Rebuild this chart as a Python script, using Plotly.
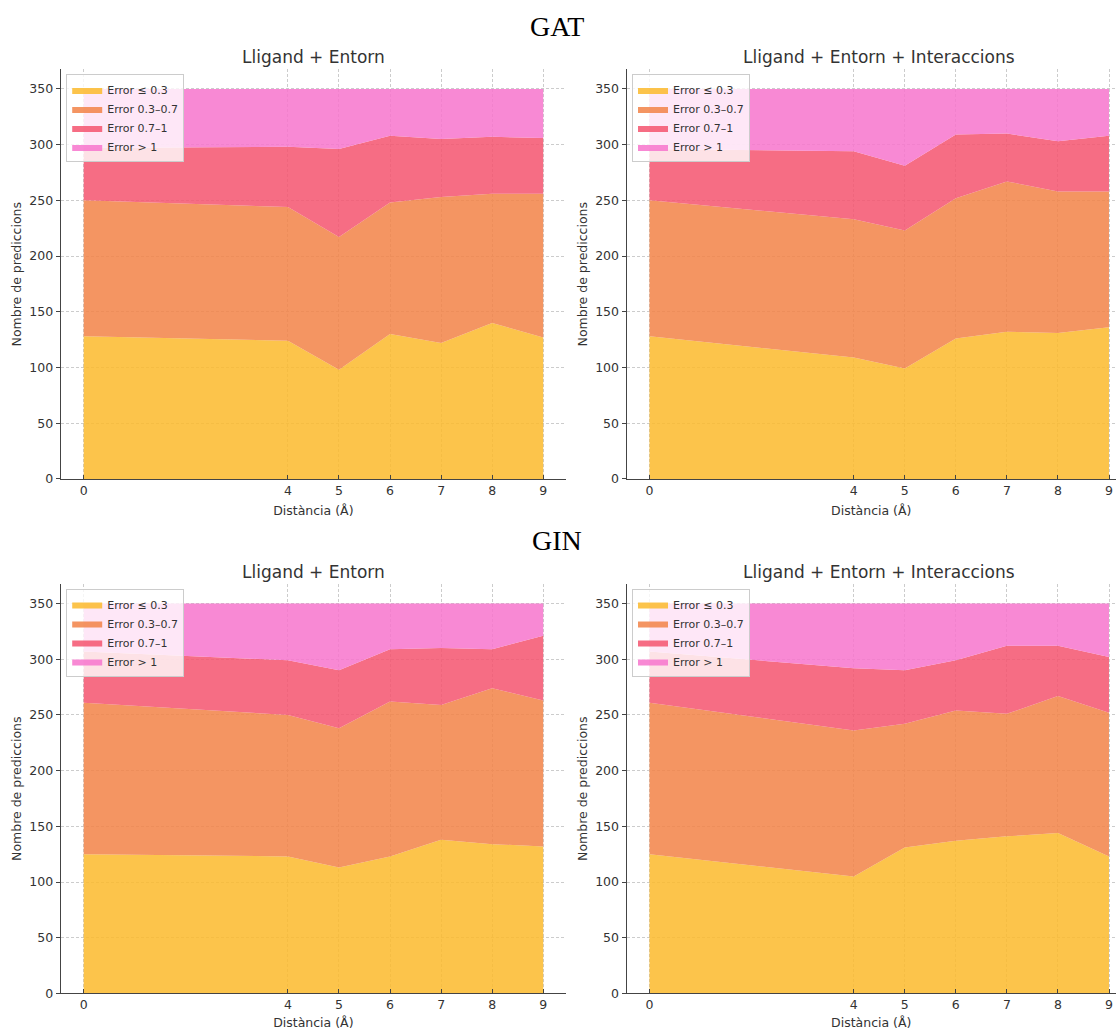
import plotly.graph_objects as go

# ---------------- data ----------------
distances = [0, 4, 5, 6, 7, 8, 9]
x_ticks = [0, 4, 5, 6, 7, 8, 9]
y_ticks = [0, 50, 100, 150, 200, 250, 300, 350]

series_names = ["Error ≤ 0.3", "Error 0.3–0.7", "Error 0.7–1", "Error > 1"]

# GAT - Lligand + Entorn
gat_le_e1 = [128, 124, 98, 130, 122, 140, 127]
gat_le_e2 = [122, 120, 119, 118, 131, 116, 129]
gat_le_e3 = [47, 54, 79, 60, 52, 51, 50]
gat_le_e4 = [53, 52, 54, 42, 45, 43, 44]

# GAT - Lligand + Entorn + Interaccions
gat_lei_e1 = [128, 109, 99, 126, 132, 131, 136]
gat_lei_e2 = [122, 124, 124, 126, 135, 127, 122]
gat_lei_e3 = [46, 61, 58, 57, 43, 45, 50]
gat_lei_e4 = [54, 56, 69, 41, 40, 47, 42]

# GIN - Lligand + Entorn
gin_le_e1 = [125, 123, 113, 123, 138, 134, 132]
gin_le_e2 = [136, 127, 125, 139, 121, 140, 131]
gin_le_e3 = [46, 49, 52, 47, 51, 35, 58]
gin_le_e4 = [43, 51, 60, 41, 40, 41, 29]

# GIN - Lligand + Entorn + Interaccions
gin_lei_e1 = [125, 105, 131, 137, 141, 144, 123]
gin_lei_e2 = [136, 131, 111, 117, 110, 123, 129]
gin_lei_e3 = [46, 56, 48, 45, 61, 45, 50]
gin_lei_e4 = [43, 58, 60, 51, 38, 38, 48]

panel_titles = ["Lligand + Entorn", "Lligand + Entorn + Interaccions",
                "Lligand + Entorn", "Lligand + Entorn + Interaccions"]
row_titles = ["GAT", "GIN"]
x_title = "Distància (Å)"
y_title = "Nombre de prediccions"

# ---------------- style ----------------
W, H = 1116, 1030
SY = 1.006  # vertical correction
colors = ["rgba(252,186,43,0.85)", "rgba(242,130,70,0.85)",
          "rgba(244,84,111,0.85)", "rgba(247,116,205,0.85)"]
FONT = "DejaVu Sans"
TXT = "#333333"
AX = "#444444"
GRID = "#cccccc"

panels = [
    [gat_le_e1, gat_le_e2, gat_le_e3, gat_le_e4],
    [gat_lei_e1, gat_lei_e2, gat_lei_e3, gat_lei_e4],
    [gin_le_e1, gin_le_e2, gin_le_e3, gin_le_e4],
    [gin_lei_e1, gin_lei_e2, gin_lei_e3, gin_lei_e4],
]

# screen-pixel geometry (left spine, right end, top, bottom)
px_unit = 51.06
geo = [
    (60.7, 566.0, 69.5, 479.3),
    (626.5, 1116.0, 69.5, 479.3),
    (60.7, 566.0, 584.5, 994.3),
    (626.5, 1116.0, 584.5, 994.3),
]


def fx(p):
    return p / W


def fy(p):
    return max(0.0, 1 - p * SY / H)


fig = go.Figure()
legend_names = ["legend", "legend2", "legend3", "legend4"]

for i, data in enumerate(panels):
    xa = "x" if i == 0 else f"x{i+1}"
    ya = "y" if i == 0 else f"y{i+1}"
    for j, vals in enumerate(data):
        fig.add_trace(go.Scatter(
            x=distances, y=vals, name=series_names[j],
            mode="lines", line=dict(width=0, color=colors[j]),
            fillcolor=colors[j], stackgroup=f"s{i}",
            xaxis=xa, yaxis=ya, legend=legend_names[i],
            hoverinfo="skip",
        ))

layout = dict(
    width=W, height=H,
    margin=dict(l=0, r=0, t=0, b=0),
    paper_bgcolor="white", plot_bgcolor="white",
    font=dict(family=FONT, color=TXT, size=12),
    showlegend=True,
)

annotations = []
for i, (l, r, t, b) in enumerate(geo):
    suffix = "" if i == 0 else str(i + 1)
    x0_px = l + 0.45 * px_unit
    xmin = -0.45
    xmax = (r - x0_px) / px_unit
    layout[f"xaxis{suffix}"] = dict(
        domain=[fx(l), min(fx(r), 1.0)], anchor=f"y{suffix}",
        range=[xmin, xmax], tickvals=x_ticks,
        ticks="inside", ticklen=4, tickwidth=1, tickcolor=AX,
        showline=True, linecolor=AX, linewidth=1,
        showgrid=True, gridcolor=GRID, gridwidth=0.8, griddash="3px,2px",
        zeroline=False,
        tickfont=dict(family=FONT, size=12.5, color=TXT),
        title=dict(text=x_title, font=dict(family=FONT, size=12.5, color=TXT), standoff=9),
        layer="above traces",
    )
    layout[f"yaxis{suffix}"] = dict(
        domain=[fy(b), fy(t)], anchor=f"x{suffix}",
        range=[0, 367.5], tickvals=y_ticks,
        ticks="outside", ticklen=4, tickwidth=1, tickcolor=AX,
        showline=True, linecolor=AX, linewidth=1,
        showgrid=True, gridcolor=GRID, gridwidth=0.8, griddash="3px,2px",
        zeroline=False,
        tickfont=dict(family=FONT, size=12.5, color=TXT),
        title=dict(text=y_title, font=dict(family=FONT, size=12.5, color=TXT), standoff=4),
        layer="above traces",
    )
    layout[legend_names[i]] = dict(
        x=fx(l + 5.5), y=fy(t + 5), xanchor="left", yanchor="top",
        xref="paper", yref="paper", traceorder="normal",
        bgcolor="rgba(255,255,255,0.8)", bordercolor="#cccccc", borderwidth=1,
        font=dict(family=FONT, size=11, color=TXT),
        itemwidth=30, tracegroupgap=0,
    )
    annotations.append(dict(
        text=panel_titles[i], x=fx((l + (l + 9.9 * px_unit)) / 2),
        y=fy(t - 12), xref="paper", yref="paper",
        xanchor="center", yanchor="middle", showarrow=False,
        font=dict(family=FONT, size=17, color=TXT),
    ))

for k, txt in enumerate(row_titles):
    annotations.append(dict(
        text=txt, x=fx(557), y=fy(27 if k == 0 else 541),
        xref="paper", yref="paper", xanchor="center", yanchor="middle",
        showarrow=False,
        font=dict(family="Liberation Serif", size=28, color="black"),
    ))

layout["annotations"] = annotations
fig.update_layout(**layout)
fig.write_html(
    "out.html",
    config={"displayModeBar": False},
    post_script="document.body.style.margin='0';document.body.style.overflow='hidden';",
)
